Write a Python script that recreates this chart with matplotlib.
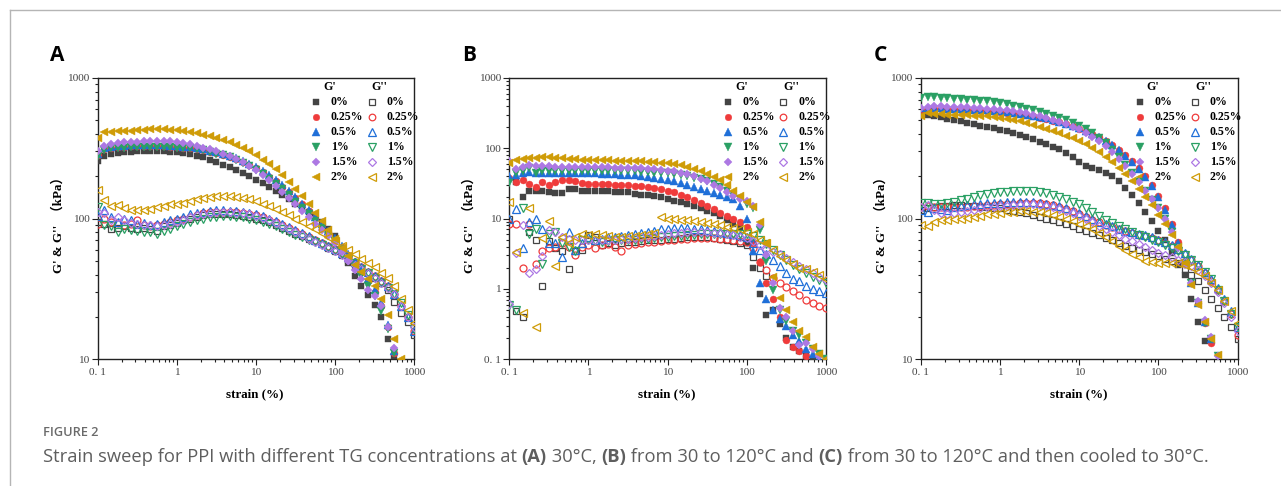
import numpy as np
import matplotlib
matplotlib.use('Agg')
import matplotlib.pyplot as plt
from matplotlib.lines import Line2D
from matplotlib.text import Annotation

nan = float('nan')

strain = [0.1, 0.121, 0.147, 0.178, 0.215, 0.261, 0.316, 0.383, 0.464, 0.562, 0.681, 0.825,
          1.0, 1.21, 1.47, 1.78, 2.15, 2.61, 3.16, 3.83, 4.64, 5.62, 6.81, 8.25,
          10.0, 12.1, 14.7, 17.8, 21.5, 26.1, 31.6, 38.3, 46.4, 56.2, 68.1, 82.5,
          100, 121, 147, 178, 215, 261, 316, 383, 464, 562, 681, 825, 1000]

concentrations = ['0%', '0.25%', '0.5%', '1%', '1.5%', '2%']

# ---------------- Panel A (30 C) ----------------
A_Gp_0 = [258,280,288,292,295,298,300,300,300,300, 300,298,296,292,286,280,272,262,252,242,
          232,222,212,200,188,178,168,158,148,138, 128,120,112,104,95,85,75,60,48,39,
          33,28.5,24.5,20,14,10.5,nan,nan,nan]
A_Gp_25 = [285,310,318,322,325,326,327,327,327,327, 326,325,323,320,316,312,306,299,291,283,
           274,264,253,241,228,214,199,184,169,154, 140,126,113,101,90,80,71,63,55,48,
           42,36,30,24,17,11,nan,nan,nan]
A_Gp_5 = [290,315,325,328,330,331,332,332,332,332, 331,330,328,325,321,316,310,303,295,287,
          278,268,257,245,232,218,203,188,172,157, 142,128,115,103,92,82,73,64,56,49,
          43,37,31,25,17.5,11.5,nan,nan,nan]
A_Gp_1 = [280,305,315,318,320,322,323,323,323,323, 322,322,320,318,315,312,305,298,290,282,
          272,262,250,237,222,207,192,176,161,146, 132,119,107,96,86,77,69,60,52,45,
          39,33,28,22,16.5,11,nan,nan,nan]
A_Gp_15 = [300,330,340,345,348,350,352,354,355,355, 355,354,350,345,338,330,320,310,300,290,
           278,265,252,237,222,205,188,171,155,140, 126,113,102,92,83,75,67,58,50,43,
           37,31,28,24,17,12,nan,nan,nan]
A_Gp_2 = [375,410,415,420,420,422,425,428,430,430, 430,428,425,420,412,405,395,385,375,362,
          350,335,320,300,282,262,243,225,205,183, 162,145,127,110,96,83,72,62,54,47,
          42,37,33,27,20.5,14,10,nan,nan]

A_Gpp_0 = [95,92,85,86,88,86,85,86,84,82, 88,90,93,97,100,103,106,108,108,108,
           107,106,104,103,100,97,94,90,86,82, 78,75,72,69,66,62,59,55,51,47,
           44,41,38,35,31,25.5,21.5,18.5,15]
A_Gpp_25 = [92,100,95,93,90,92,97,90,88,90, 92,95,97,100,103,106,109,111,112,112,
            112,111,110,108,106,102,98,94,90,86, 82,78,74,70,67,64,61,57,53,49,
            45,42,39,36,33,29,24,20,16]
A_Gpp_5 = [105,115,102,95,100,98,92,93,90,92, 95,97,100,103,107,110,112,114,115,115,
           114,113,112,110,108,104,100,96,91,87, 83,79,75,71,67,64,61,57,53,49,
           45,42,39,36,33,29,24,20,16]
A_Gpp_1 = [120,90,88,80,85,83,82,80,80,78, 82,85,88,92,95,98,100,102,103,104,
           104,103,102,100,98,95,92,88,84,80, 77,74,71,68,65,62,59,56,52,48,
           44,41,38,35,32,29,25,20.5,16.5]
A_Gpp_15 = [112,110,98,102,98,93,92,90,90,88, 90,92,95,98,102,106,108,110,111,111,
            111,110,109,108,105,101,97,93,88,84, 80,76,72,68,65,62,59,55,51,47,
            44,41,38,35,32,29,24,20,17]
A_Gpp_2 = [160,135,122,125,118,115,115,115,117,120, 123,126,128,130,133,137,140,143,145,145,
           145,143,140,137,133,128,123,117,112,106, 100,95,89,84,79,74,69,64,60,56,
           52,48,45,41,38,33,27,22.5,18]

# ---------------- Panel B (30 -> 120 C) ----------------
B_Gp_0 = [nan,33,20,25,25,25,24,23,23,26, 26,25,25,25,25,24.5,24,24,24,22.5,
          22,22,21,20,19,18,17,16,15,14, 13,12,11,9.5,8.5,7.5,4.5,2,0.85,0.42,
          0.5,0.32,0.2,0.15,0.13,0.11,0.1,nan,nan]
B_Gp_25 = [38,33,35,31,28,33,30,33,35,35, 34,32,31,31,31,31,30,30,30,29,
           29,28,27,26,25,24,22,20,18.5,16.5, 15,13.5,12,11,10,9,7.7,4.5,2.4,1.2,
           0.73,0.4,0.19,0.15,0.13,0.11,nan,nan,nan]
B_Gp_5 = [40,42,45,46,45,45,44,44,44,44, 44,44,44,44,43,43,43,42,42,41,
          40,39,38,37,35,34,32,30,28,26, 24.5,23,22,20,19,15,10,3.5,1.2,0.73,
          0.5,0.37,0.3,0.22,0.18,0.14,0.12,0.1,nan]
B_Gp_1 = [32,45,48,52,45,48,48,48,48,48, 48,48,48,48,48,47,47,47,47,47,
          46,46,45,45,44,43,42,40,38,36, 34,31,28,25,22,19,16,14,6.9,2.5,
          0.97,0.5,0.35,0.25,0.22,0.17,0.14,0.12,0.1]
B_Gp_15 = [65,50,55,57,56,56,56,55,55,55, 55,55,54,54,54,54,53,53,53,52,
           52,51,50,49,48,47,45,43,40,37, 34,30,27,24,21,19,18,15,8,3,
           1.2,0.53,0.4,0.25,0.16,0.17,0.14,0.11,0.095]
B_Gp_2 = [62,68,70,72,73,74,74,73,72,71, 70,69,68,68,67,67,66,66,66,65,
          65,64,63,62,61,59,57,54,51,47, 43,39,35,30,25,21,17.5,14.5,9,4.5,
          1.5,0.74,0.5,0.34,0.25,0.21,0.15,0.12,0.1]

B_Gpp_0 = [10,0.48,0.4,6.5,5,1.1,4.8,3.8,3.5,1.9, 3.5,3.6,5.8,5.5,4.2,4.5,4.2,4.5,4.6,4.7,
           4.8,4.9,5,5,5.1,5.2,5.3,5.4,5.5,5.5, 5.4,5.3,5.2,5,4.8,4.5,4.2,2.8,2,1.55,
           nan,nan,nan,nan,nan,nan,nan,nan,nan]
B_Gpp_25 = [8.5,8.5,2,8.5,2.3,3.5,3.8,4,4.5,4, 3,4,4.2,3.8,4.2,4.3,4,3.5,4.2,4.3,
            4.5,4.6,4.7,4.8,4.9,5,5.1,5.2,5.3,5.3, 5.3,5.3,5.2,5.1,5,4.8,4.6,3.8,2.4,1.85,
            1.45,1.2,1.05,0.92,0.82,0.7,0.63,0.58,0.54]
B_Gpp_5 = [10,13.5,3.8,9,10,7,4.5,4.5,2.8,6.5, 3.6,4.5,5.5,5,5.2,5.5,5.5,5.7,5.8,6,
           6.2,6.5,6.7,7,7.2,7.3,7.3,7.3,7.2,7, 6.8,6.6,6.4,6.2,6,5.8,5.5,4.5,3.6,3.1,
           2.6,2.1,1.67,1.4,1.3,1.1,1.0,0.93,0.87]
B_Gpp_1 = [0.6,0.5,14,6,7,2.3,6,6.5,4.5,4, 3.5,5,5,4.8,4.6,4.8,4.9,5,5,5,
           5.1,5.2,5.3,5.4,5.5,5.6,5.7,5.8,5.9,6, 6,6,6,6,6.1,6.1,6,5.6,5,4.3,
           3.6,3,2.6,2.2,1.9,1.7,1.5,1.35,1.2]
B_Gpp_15 = [0.62,3.2,8.2,1.7,1.9,2.9,6.9,6.5,5.5,5.2, 5,5,5,5,5,5,5,5.1,5.2,5.3,
            5.4,5.5,5.6,5.8,6,6.2,6.3,6.4,6.5,6.5, 6.4,6.3,6.2,6,5.8,5.5,5.3,4.8,4.2,3.7,
            3.4,3.1,2.75,2.45,2.1,1.9,1.7,1.5,1.35]
B_Gpp_2 = [17.5,3.3,0.45,14,0.29,5.3,9.3,2.1,5.5,4.5, 5.5,6,5.8,6,5.8,5.6,5.5,5.5,5.6,5.7,
           5.8,6,6.2,10.5,10,9.8,9.6,9.5,9.3,9, 8.7,8.3,8,7.6,7.3,7,6.5,6,5,4.5,
           3.6,2.9,2.6,2.3,2,1.9,1.75,1.6,1.4]

# ---------------- Panel C (30 -> 120 -> 30 C) ----------------
C_Gp_0 = [560,545,535,525,512,500,490,480,468,457, 446,437,428,418,407,396,383,368,352,338,
          325,310,292,272,252,238,228,220,212,200, 185,165,148,130,112,96,82,70,57,47,
          40,27,18.5,13.4,nan,nan,nan,nan,nan]
C_Gp_25 = [595,600,600,600,598,597,595,593,590,587, 583,578,573,567,560,552,543,533,522,510,
           497,483,468,452,435,417,398,378,356,333, 308,282,255,228,200,172,145,118,92,68,
           50,35,25,18,13,nan,nan,nan,nan]
C_Gp_5 = [610,605,608,607,605,603,600,598,595,592, 588,583,578,572,565,557,548,538,527,515,
          502,488,473,457,440,421,401,380,357,333, 307,280,253,225,198,170,143,116,90,67,
          49,35,25,18.5,14,nan,nan,nan,nan]
C_Gp_1 = [720,730,730,720,715,710,705,700,695,690, 680,670,660,650,635,620,605,590,572,555,
          537,518,498,478,457,432,405,375,342,308, 273,240,210,182,157,135,118,100,80,62,
          48,35,25,18,14,10.5,nan,nan,nan]
C_Gp_15 = [610,625,630,628,625,622,620,617,613,610, 605,600,595,588,580,570,560,548,535,520,
           505,488,470,450,430,407,382,355,326,296, 266,236,208,182,158,137,118,100,80,62,
           47,35,26,19,14.5,10.5,nan,nan,nan]
C_Gp_2 = [540,560,555,550,548,546,544,542,540,537, 533,528,520,510,500,490,478,465,450,435,
          420,405,388,372,355,337,318,297,275,252, 230,207,185,163,143,124,106,92,77,63,
          48,34,24.5,18.5,14,10.8,nan,nan,nan]

C_Gpp_0 = [115,118,120,122,123,124,124,123,122,121, 120,119,118,116,114,112,109,106,103,100,
           97,94,91,88,85,82,79,76,73,70, 67,64,62,60,58,56,54,52,50,48,
           44,40,36,31,27,23,20,17,14]
C_Gpp_25 = [120,122,120,120,120,120,120,121,122,123, 124,125,126,127,128,129,130,130,129,127,
            124,121,117,113,108,103,98,94,90,87, 84,81,79,77,75,73,70,67,64,60,
            56,51,46,41,36,31,26,21,15]
C_Gpp_5 = [115,112,118,117,116,120,122,125,127,128, 129,130,130,131,132,132,132,131,130,128,
           125,122,118,114,109,104,99,95,91,88, 85,82,80,78,76,74,71,68,65,61,
           57,52,47,42,37,32,27,22,17]
C_Gpp_1 = [130,130,128,127,130,132,135,138,143,148, 150,152,154,155,156,157,157,156,154,151,
           147,143,138,132,126,119,112,105,98,93, 88,84,80,77,74,71,68,65,62,59,
           55,51,47,42,37,31,26,21,17]
C_Gpp_15 = [120,125,115,110,108,110,112,114,116,118, 120,121,122,123,124,125,126,126,125,123,
            120,117,113,109,104,99,94,89,84,80, 76,72,69,66,63,60,57,55,53,51,
            49,46,43,39,35,30,25,20,16]
C_Gpp_2 = [90,88,95,97,98,100,100,101,103,105, 107,108,110,111,112,113,113,112,111,109,
           106,103,100,96,92,88,84,79,74,69, 64,60,56,53,50,49,48,48,48,48,
           47,45,42,39,35,31,26,22,18]

# ---------------- styling ----------------
colors = ['#444444', '#ef3b3b', '#1f6fd8', '#2aa064', '#ad78e3', '#cf9c08']
markers = ['s', 'o', '^', 'v', 'D', '<']
msizes = [4.6, 5.0, 5.4, 5.4, 4.4, 5.4]

SERIF = ['Liberation Serif', 'DejaVu Serif']
W, H = 1281, 486
fig = plt.figure(figsize=(W / 100, H / 100), dpi=100)

panels = [
    dict(letter='A', left=97.7, ylim=(10, 1000),
         Gp=[A_Gp_0, A_Gp_25, A_Gp_5, A_Gp_1, A_Gp_15, A_Gp_2],
         Gpp=[A_Gpp_0, A_Gpp_25, A_Gpp_5, A_Gpp_1, A_Gpp_15, A_Gpp_2],
         yticks=[10, 100, 1000], yticklabels=['10', '100', '1000']),
    dict(letter='B', left=509.3, ylim=(0.1, 1000),
         Gp=[B_Gp_0, B_Gp_25, B_Gp_5, B_Gp_1, B_Gp_15, B_Gp_2],
         Gpp=[B_Gpp_0, B_Gpp_25, B_Gpp_5, B_Gpp_1, B_Gpp_15, B_Gpp_2],
         yticks=[0.1, 1, 10, 100, 1000], yticklabels=['0. 1', '1', '10', '100', '1000']),
    dict(letter='C', left=921.0, ylim=(10, 1000),
         Gp=[C_Gp_0, C_Gp_25, C_Gp_5, C_Gp_1, C_Gp_15, C_Gp_2],
         Gpp=[C_Gpp_0, C_Gpp_25, C_Gpp_5, C_Gpp_1, C_Gpp_15, C_Gpp_2],
         yticks=[10, 100, 1000], yticklabels=['10', '100', '1000']),
]

ax_top, ax_bot = 77.9, 359.3
ax_w = 316.5

for p in panels:
    ax = fig.add_axes([p['left'] / W, 1 - ax_bot / H, ax_w / W, (ax_bot - ax_top) / H])
    ax.set_xscale('log')
    ax.set_yscale('log')
    for k in range(6):
        ax.plot(strain, p['Gp'][k], ls='none', marker=markers[k], ms=msizes[k],
                mfc=colors[k], mec=colors[k], mew=0.3, zorder=3)
        ax.plot(strain, p['Gpp'][k], ls='none', marker=markers[k], ms=msizes[k],
                mfc='none', mec=colors[k], mew=0.9, zorder=3)
    ax.set_xlim(0.1, 1000)
    ax.set_ylim(*p['ylim'])
    ax.set_xticks([0.1, 1, 10, 100, 1000])
    ax.set_xticklabels(['0. 1', '1', '10', '100', '1000'])
    ax.set_yticks(p['yticks'])
    ax.set_yticklabels(p['yticklabels'])
    ax.tick_params(which='both', direction='out', top=False, right=False,
                   colors='#222222', labelcolor='#444444', width=0.8)
    ax.tick_params(which='major', length=4, pad=2, labelsize=8.2)
    ax.tick_params(which='minor', length=2)
    for lab in ax.get_xticklabels() + ax.get_yticklabels():
        lab.set_family(SERIF)
    for s in ax.spines.values():
        s.set_linewidth(1.0)
        s.set_color('#222222')

    ax.text(0.497, -0.123, 'strain (%)', transform=ax.transAxes, ha='center', va='center',
            family=SERIF, fontweight='bold', fontsize=9.4)
    ax.text(-0.125, 0.49, "G' & G''  \uff08kPa\uff09", transform=ax.transAxes, rotation=90,
            ha='center', va='center', family=['Liberation Serif', 'Noto Sans CJK SC'],
            fontweight='bold', fontsize=9.4)

    # legend (two columns: G' filled, G'' open)
    ax.text(0.713, 0.968, "G'", transform=ax.transAxes, ha='left', va='center',
            family=SERIF, fontweight='bold', fontsize=8.6)
    ax.text(0.866, 0.968, "G''", transform=ax.transAxes, ha='left', va='center',
            family=SERIF, fontweight='bold', fontsize=8.6)
    for k, lab in enumerate(concentrations):
        yy = 0.915 - 0.0533 * k
        ax.plot([0.691], [yy], transform=ax.transAxes, ls='none', marker=markers[k],
                ms=msizes[k] * 0.95, mfc=colors[k], mec=colors[k], mew=0.3, clip_on=False)
        ax.text(0.737, yy, lab, transform=ax.transAxes, ha='left', va='center',
                family=SERIF, fontweight='bold', fontsize=8.6)
        ax.plot([0.866], [yy], transform=ax.transAxes, ls='none', marker=markers[k],
                ms=msizes[k] * 0.95, mfc='none', mec=colors[k], mew=0.9, clip_on=False)
        ax.text(0.913, yy, lab, transform=ax.transAxes, ha='left', va='center',
                family=SERIF, fontweight='bold', fontsize=8.6, zorder=5)

    fig.text((p['left'] - 47.5) / W, 1 - 61 / H, p['letter'], ha='left', va='baseline',
             family=['Open Sans', 'DejaVu Sans'], fontweight='bold', fontsize=15)

# outer frame
fy = 1 - 10 / H
fx = 10 / W
fig.add_artist(Line2D([fx, 1], [fy, fy], transform=fig.transFigure, color='#b5b5b5', lw=1))
fig.add_artist(Line2D([fx, fx], [fy, 0], transform=fig.transFigure, color='#b5b5b5', lw=1))

# caption
cap_font = ['Open Sans', 'DejaVu Sans']
fig.text(43 / W, 1 - 436 / H, 'FIGURE 2', ha='left', va='baseline', family=cap_font,
         fontweight='semibold', fontsize=9.2, color='#6a6a6a')

pieces = [('Strain sweep for PPI with different TG concentrations at ', 'normal'),
          ('(A)', 'bold'), (' 30\u00b0C, ', 'normal'), ('(B)', 'bold'),
          (' from 30 to 120\u00b0C and ', 'normal'), ('(C)', 'bold'),
          (' from 30 to 120\u00b0C and then cooled to 30\u00b0C.', 'normal')]
cap_kw = dict(family=cap_font, fontsize=13.2, color='#5e5e5e')
prev = fig.text(43 / W, 1 - 466 / H, pieces[0][0], ha='left', va='bottom',
                fontweight=pieces[0][1], **cap_kw)
for s, w in pieces[1:]:
    a = Annotation(s, xy=(1, 0), xycoords=prev, xytext=(0, 0), textcoords='offset points',
                   ha='left', va='bottom', fontweight=w, **cap_kw)
    fig.add_artist(a)
    prev = a

fig.savefig('out.png', dpi=100)
